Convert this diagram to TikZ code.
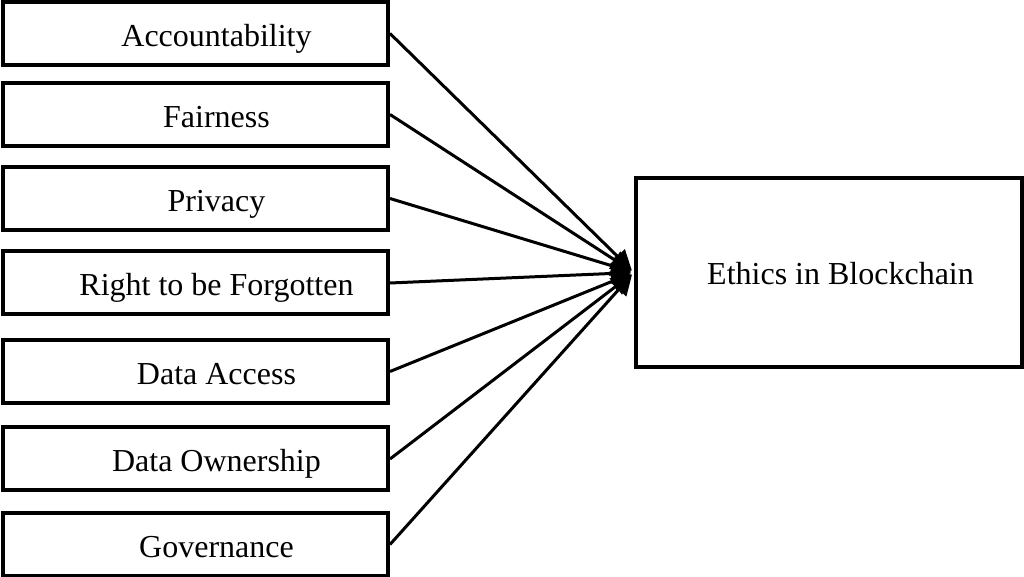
\documentclass[tikz,border=0pt]{standalone}
\usepackage{fontspec}
\setmainfont{Liberation Serif}
\usetikzlibrary{arrows.meta}

\begin{document}
\begin{tikzpicture}[x=0.5pt, y=-0.5pt,
		factor/.style={draw, rectangle, line width=2pt, minimum width=192.5pt, minimum height=31.5pt, inner sep=0pt, text height=13pt, text depth=0pt, font=\fontsize{16}{19}\selectfont},
		target/.style={draw, rectangle, line width=2pt, minimum width=193pt, minimum height=94.5pt, inner sep=0pt, text height=12.5pt, text depth=0pt, font=\fontsize{16}{19}\selectfont},
		link/.style={->, >={Triangle[length=10pt, width=10pt]}, line width=1.5pt, shorten >=1.5pt}]
				\useasboundingbox (0,0) rectangle (1024,577);
				\node[factor] (AC)at(195.5, 33.5) {\hspace*{21pt}Accountability};
				\node[factor] (FA)at(195.5, 114.5) {\hspace*{21pt}Fairness};
				\node[factor] (PR)at(195.5, 198.5) {\hspace*{21pt}Privacy};
				\node[factor] (RF)at(195.5, 283) {\hspace*{21pt}Right to be Forgotten};
				\node[factor] (DA)at(195.5, 371.5) {\hspace*{21pt}Data Access};
				\node[factor] (DO)at(195.5, 459) {\hspace*{21pt}Data Ownership};
				\node[factor] (GO)at(195.5, 544.5) {\hspace*{21pt}Governance};
				\node[target] (EB)at(829, 272.5) {\hspace*{11.5pt}Ethics in Blockchain};
				\draw[link] (AC.east) -- (EB.west);
				\draw[link] (FA.east) -- (EB.west);
				\draw[link] (PR.east) -- (EB.west);
				\draw[link] (RF.east) -- (EB.west);
				\draw[link] (DA.east) -- (EB.west);
				\draw[link] (DO.east) -- (EB.west);
				\draw[link] (GO.east) -- (EB.west);
			\end{tikzpicture}
\end{document}
